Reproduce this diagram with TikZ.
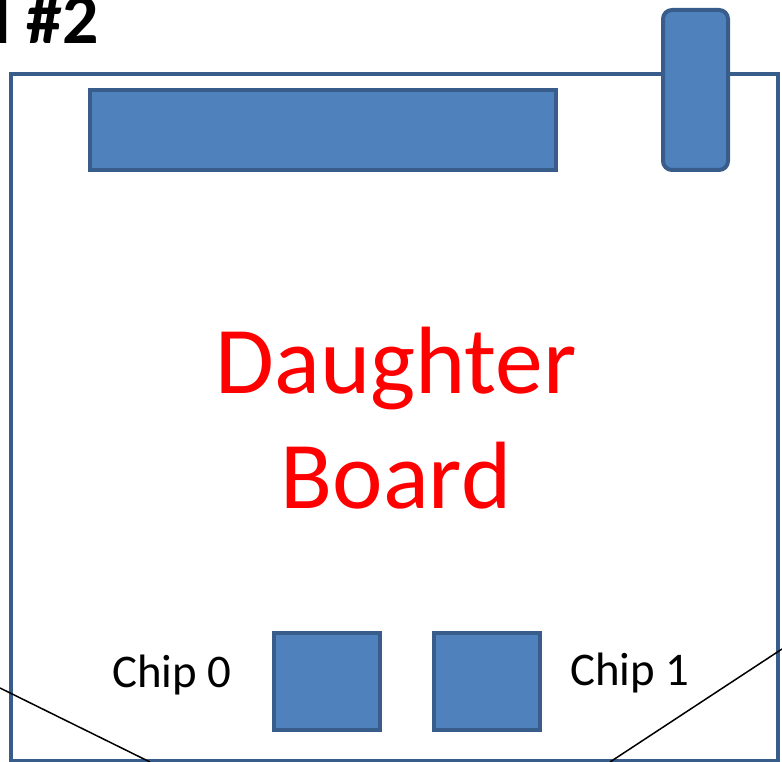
\documentclass[tikz,border=0pt]{standalone}
\usepackage{fontspec}
\setmainfont{Carlito}
\definecolor{partfill}{HTML}{4F81BD}
\definecolor{partline}{HTML}{385D8A}

\begin{document}
\begin{tikzpicture}[x=1bp, y=1bp,
    part/.style={draw=partline, fill=partfill, line width=4bp, inner sep=0pt},
    label/.style={inner sep=0pt, font=\fontsize{47}{56}\selectfont}]
  \useasboundingbox (0,0) rectangle (782,762);
  \node [draw=partline, line width=4bp, inner sep=0pt, minimum width=767bp, minimum height=686.5bp] (board) at (394.5,344.75) {};
  \node [part, minimum width=466bp, minimum height=80bp] (header) at (323,632) {};
  \node [part, rounded corners=9bp, minimum width=65bp, minimum height=160bp] (conn) at (695.5,672) {};
  \node [part, minimum width=106bp, minimum height=97bp] (chipa) at (327,80.5) {};
  \node [part, minimum width=106bp, minimum height=97bp] (chipb) at (487,80.5) {};
  \node [label, anchor=base] (chipatext) at (172,74) {Chip 0};
  \node [label, anchor=base] (chipbtext) at (630,76) {Chip 1};
  \node [inner sep=0pt, align=center, text=red, font=\fontsize{96}{116}\selectfont] (title) at (396,344) {Daughter\\Board};
  \node [inner sep=0pt, anchor=base east, font=\fontsize{72}{86}\selectfont\bfseries] (num) at (99,718) {d \#2};
  \coordinate (la) at (0,74);
  \coordinate (lb) at (150,0);
  \coordinate (ra) at (782,113);
  \coordinate (rb) at (610,0);
  \draw [line width=1.5bp] (la) -- (lb);
  \draw [line width=1.5bp] (ra) -- (rb);
\end{tikzpicture}
\end{document}
